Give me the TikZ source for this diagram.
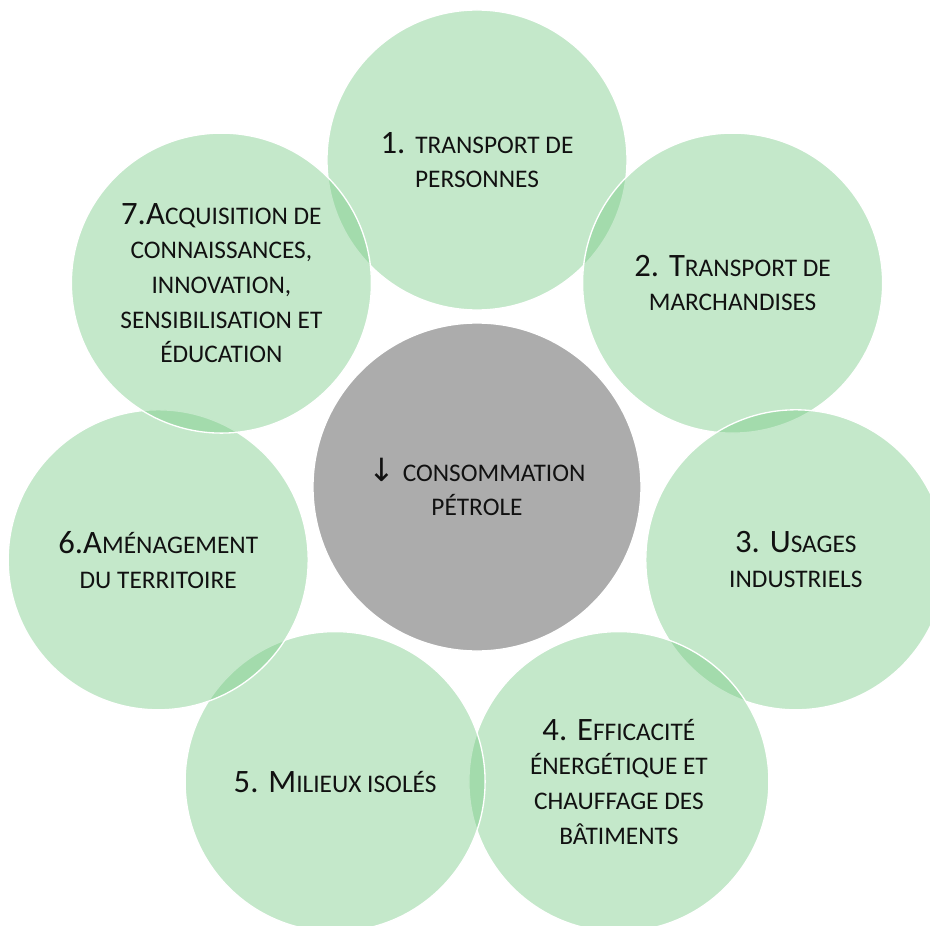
\documentclass[tikz,border=0pt]{standalone}
\usepackage{fontspec}
\setmainfont{Carlito}
\newfontfamily\arrowfont{DejaVu Sans}
\definecolor{leaf}{RGB}{121,203,135}
\definecolor{stone}{RGB}{172,172,172}
\definecolor{ink}{RGB}{17,17,17}
% uppercase letters set smaller, as small capitals
\newcommand\petitcap[1]{{\fontsize{19}{26}\selectfont #1}}
\tikzset{
  axe/.style={circle, minimum size=225pt, inner sep=0pt, fill=leaf, fill opacity=0.44,
              draw=white, line width=1pt, text opacity=1, text=ink, align=center,
              font=\fontsize{24.5}{26}\selectfont},
  coeur/.style={circle, minimum size=246pt, inner sep=0pt, fill=stone,
              draw=white, line width=1pt, text=ink, align=center,
              font=\fontsize{24.5}{26}\selectfont},
}
\begin{document}
\begin{tikzpicture}[x=0.75pt, y=0.75pt]
  \clip (-477,-438) rectangle (453,487);
  \fill[white] (-477,-438) rectangle (453,487);

  % seven axes round the centre
  \node[axe] (transport) at (0,327)
    {1. \petitcap{TRANSPORT DE}\\ \petitcap{PERSONNES}};
  \node[axe] (marchandises) at (255.6,203.9)
    {2. T\petitcap{RANSPORT DE}\\ \petitcap{MARCHANDISES}};
  \node[axe] (usages) at (318.8,-72.8)
    {3. U\petitcap{SAGES}\\ \petitcap{INDUSTRIELS}};
  \node[axe] (efficacite) at (141.9,-294.6)
    {4. E\petitcap{FFICACITÉ}\\ \petitcap{ÉNERGÉTIQUE ET}\\ \petitcap{CHAUFFAGE DES}\\ \petitcap{BÂTIMENTS}};
  \node[axe] (milieux) at (-141.9,-294.6)
    {5. M\petitcap{ILIEUX ISOLÉS}};
  \node[axe] (amenagement) at (-318.8,-72.8)
    {6.A\petitcap{MÉNAGEMENT}\\ \petitcap{DU TERRITOIRE}};
  \node[axe] (acquisition) at (-255.6,203.9)
    {7.A\petitcap{CQUISITION DE}\\ \petitcap{CONNAISSANCES,}\\ \petitcap{INNOVATION,}\\ \petitcap{SENSIBILISATION ET}\\ \petitcap{ÉDUCATION}};

  % centre
  \node[coeur] (petrole) at (0,0)
    {{\arrowfont\fontsize{24}{26}\selectfont ↓} \petitcap{CONSOMMATION}\\ \petitcap{PÉTROLE}};
\end{tikzpicture}
\end{document}
